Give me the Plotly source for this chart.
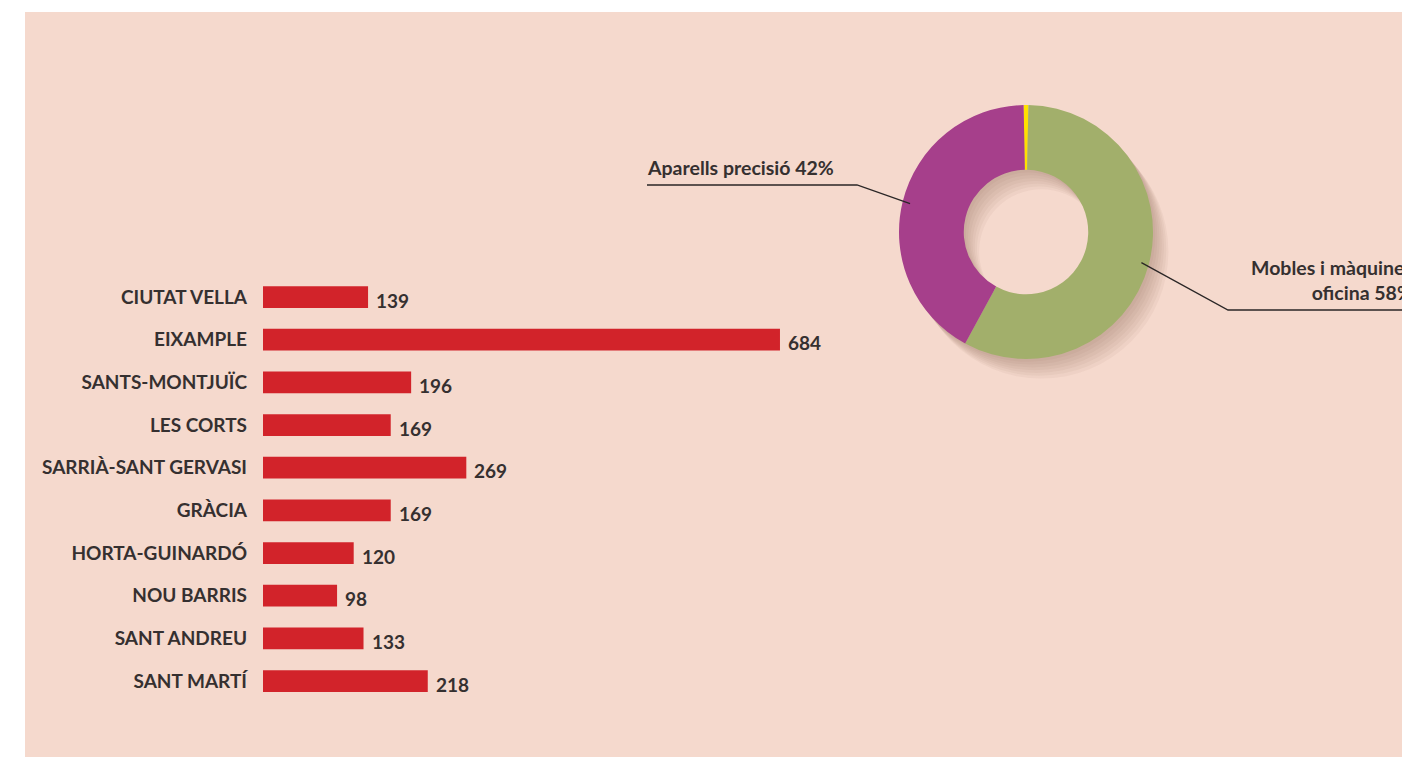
import math
import plotly.graph_objects as go

# ---------------- data ----------------
districts = ["CIUTAT VELLA", "EIXAMPLE", "SANTS-MONTJUÏC", "LES CORTS",
             "SARRIÀ-SANT GERVASI", "GRÀCIA", "HORTA-GUINARDÓ", "NOU BARRIS",
             "SANT ANDREU", "SANT MARTÍ"]
district_values = [139, 684, 196, 169, 269, 169, 120, 98, 133, 218]

pie_labels = ["Altres", "Mobles i màquines oficina", "Aparells precisió"]
pie_values = [0.6, 58, 42]
pie_texts = ["", "Mobles i màquines<br>oficina 58%", "Aparells precisió 42%"]

# ---------------- styling ----------------
W, H = 1402, 759
PANEL = "#F5D9CD"
BAR = "#D2232A"
GREEN = "#A2AF6B"
PURPLE = "#A63F8B"
YELLOW = "#FFE100"
TXT = "#353030"
FONT = "Lato"


def px(x):
    return x / W


def py(y):
    return 1 - y / H


fig = go.Figure()

# bar chart
fig.add_trace(go.Bar(
    x=district_values, y=districts, orientation="h",
    marker=dict(color=BAR, line=dict(width=0)),
    width=0.51, hoverinfo="skip", showlegend=False,
))

for d, v in zip(districts, district_values):
    fig.add_annotation(x=v, y=d, xref="x", yref="y", text=str(v),
                       showarrow=False, xanchor="left", yanchor="middle",
                       xshift=6, yshift=-3,
                       font=dict(family=FONT, size=19, color=TXT, weight="bold"))

# donut geometry
CX, CY, R = 1026, 232, 127
HOLE = 0.49
rot = -(pie_values[0] / sum(pie_values) * 360) / 2

# shadow layers
for i in range(1, 8):
    dx, dy = 2.2 * i, 2.8 * i
    fig.add_trace(go.Pie(
        values=[1], marker=dict(colors=["rgba(120,70,60,0.05)"], line=dict(width=0)),
        hole=HOLE, textinfo="none", hoverinfo="skip", showlegend=False, sort=False,
        domain=dict(x=[px(CX - R + dx), px(CX + R + dx)],
                    y=[py(CY + R + dy), py(CY - R + dy)]),
    ))

fig.add_trace(go.Pie(
    labels=pie_labels, values=pie_values, sort=False, direction="clockwise",
    rotation=rot, hole=HOLE, textinfo="none", hoverinfo="skip", showlegend=False,
    marker=dict(colors=[YELLOW, GREEN, PURPLE], line=dict(width=0)),
    domain=dict(x=[px(CX - R), px(CX + R)], y=[py(CY + R), py(CY - R)]),
))

# leader lines from slice mid-angles
total = sum(pie_values)
start = rot
mids = []
for v in pie_values:
    span = v / total * 360
    mids.append(start + span / 2)
    start += span


def ring_point(angle_deg, r):
    a = math.radians(angle_deg)
    return CX + r * math.sin(a), CY - r * math.cos(a)


line_style = dict(color="#2a2626", width=1.3)
# purple label (left)
x0, y0 = ring_point(mids[2], R * 0.94)
fig.add_shape(type="path", xref="paper", yref="paper",
              path=f"M {px(x0)} {py(y0)} L {px(857)} {py(185)} L {px(647)} {py(185)}",
              line=line_style)
fig.add_annotation(x=px(645), y=py(167), xref="paper", yref="paper",
                   text=pie_texts[2], showarrow=False, xanchor="left", yanchor="middle",
                   align="left", font=dict(family=FONT, size=19.5, color=TXT, weight="bold"))
# green label (right)
x1, y1 = ring_point(mids[1], R * 0.94)
fig.add_shape(type="path", xref="paper", yref="paper",
              path=f"M {px(x1)} {py(y1)} L {px(1228)} {py(310)} L {px(1460)} {py(310)}",
              line=line_style)
fig.add_annotation(x=px(1415), y=py(280), xref="paper", yref="paper",
                   text=pie_texts[1], showarrow=False, xanchor="right", yanchor="middle",
                   align="right", font=dict(family=FONT, size=19.5, color=TXT, weight="bold"))

# background panel
fig.add_shape(type="rect", xref="paper", yref="paper", layer="below",
              x0=px(25), x1=px(1440), y0=py(757), y1=py(12),
              fillcolor=PANEL, line=dict(width=0))

fig.update_layout(
    width=W, height=H, autosize=False,
    margin=dict(l=0, r=0, t=0, b=0),
    paper_bgcolor="white", plot_bgcolor="rgba(0,0,0,0)",
    showlegend=False,
    xaxis=dict(domain=[px(263), px(263 + 800 * 0.7558)], range=[0, 800],
               visible=False, fixedrange=True),
    yaxis=dict(domain=[py(702.4), py(275.7)], type="category",
               categoryorder="array", categoryarray=districts,
               range=[9.5, -0.5], showgrid=False, zeroline=False, showline=False,
               ticks="", ticklabelstandoff=15, automargin=False,
               tickfont=dict(family=FONT, size=19, color=TXT, weight="bold")),
)

fig.write_html("out.html",
               config=dict(displayModeBar=False, staticPlot=True),
               post_script="document.body.style.margin='0';"
                           "document.body.style.overflow='hidden';"
                           "document.documentElement.style.overflow='hidden';")
